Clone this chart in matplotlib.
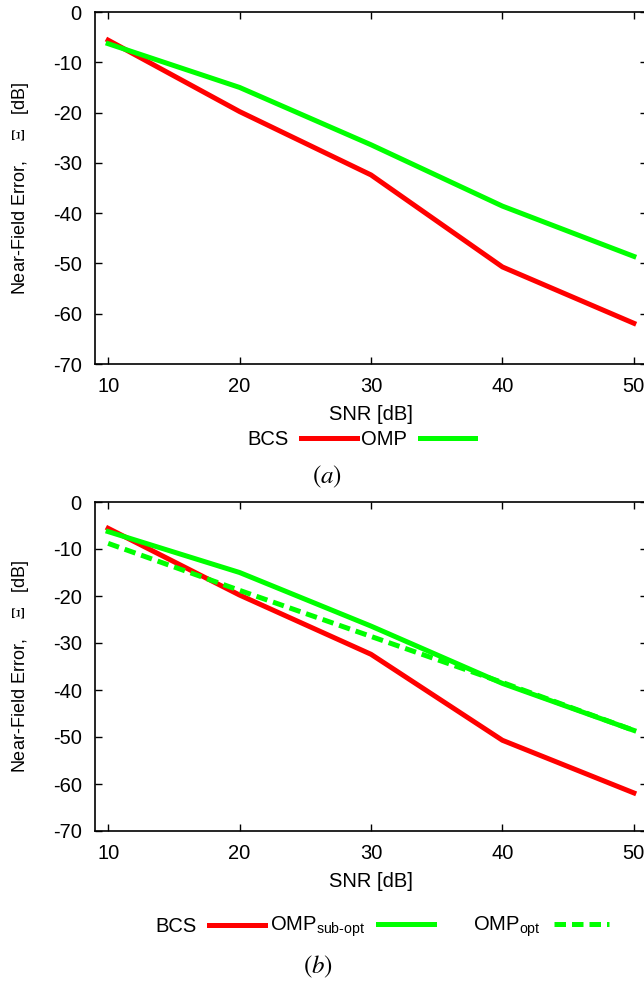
import matplotlib
matplotlib.use("Agg")
import matplotlib.pyplot as plt
from matplotlib.lines import Line2D

plt.rcParams['font.family'] = ['Liberation Sans', 'DejaVu Sans']
plt.rcParams['axes.unicode_minus'] = False
plt.rcParams['mathtext.fontset'] = 'custom'
plt.rcParams['mathtext.rm'] = 'Liberation Sans'
plt.rcParams['mathtext.it'] = 'Liberation Sans:italic'

# datos
snr = [10, 20, 30, 40, 50]
bcs = [-5.6, -19.8, -32.4, -50.7, -61.9]
omp = [-6.3, -15.0, -26.4, -38.6, -48.6]
omp_opt = [-8.8, -18.8, -28.6, -38.4, -48.6]
yticks = [0, -10, -20, -30, -40, -50, -60, -70]
xticks = [10, 20, 30, 40, 50]

W, H = 644, 986
FS = 14.5
fig = plt.figure(figsize=(W / 100, H / 100), dpi=100)

ax1 = fig.add_axes([95 / W, 1 - 364 / H, 552 / W, 352 / H])
ax2 = fig.add_axes([95 / W, 1 - 831 / H, 552 / W, 329 / H])

ROJO = "#ff0000"
VERDE = "#00ff00"
lw = 3.6
guiones = (2.3, 1.2)

ax1.plot(snr, bcs, color=ROJO, lw=lw)
ax1.plot(snr, omp, color=VERDE, lw=lw)

ax2.plot(snr, bcs, color=ROJO, lw=lw)
ax2.plot(snr, omp, color=VERDE, lw=lw)
ax2.plot(snr, omp_opt, color=VERDE, lw=lw, dashes=guiones)

for ax, alto in ((ax1, 352), (ax2, 329)):
    ax.set_xlim(9, 51)
    ax.set_ylim(-70, 0)
    ax.set_xticks(xticks)
    ax.set_yticks(yticks)
    ax.tick_params(direction='in', top=True, right=True, length=5, width=1,
                   labelsize=FS, pad=9.5)
    for s in ax.spines.values():
        s.set_linewidth(1.2)
    ax.set_ylabel("Near-Field Error,    $\\Xi$   [dB]", fontsize=13, math_fontfamily='stix')
    ax.yaxis.label.set_va('center')
    ax.yaxis.set_label_coords(-74 / 552, 0.5)
    ax.set_xlabel("SNR [dB]", fontsize=FS)
    ax.xaxis.label.set_va('center')
    ax.xaxis.set_label_coords(0.5, -51 / alto)


def entrada(x, y, texto, color, dashes=None):
    # una entrada de leyenda estilo gnuplot: texto y luego la muestra
    h = Line2D([], [], color=color, lw=lw)
    if dashes:
        h.set_dashes(dashes)
    leg = fig.legend([h], [texto], loc='center left', bbox_to_anchor=(x / W, 1 - y / H),
                     frameon=False, markerfirst=False, fontsize=FS,
                     handlelength=2.75, handletextpad=0.65,
                     borderpad=0, borderaxespad=0)
    return leg


entrada(247, 440, "BCS", ROJO)
entrada(361, 440, "OMP", VERDE)
entrada(155, 927, "BCS", ROJO)
entrada(270, 927, "OMP$_{\\mathrm{sub}\\text{-}\\mathrm{opt}}$", VERDE)
entrada(473, 927, "OMP$_{\\mathrm{opt}}$", VERDE, guiones)

fig.text(327 / W, 1 - 477 / H, "$(a)$", fontsize=18, ha='center', va='center', math_fontfamily='stix')
fig.text(318 / W, 1 - 967 / H, "$(b)$", fontsize=18, ha='center', va='center', math_fontfamily='stix')

fig.savefig("out.png", dpi=100)
